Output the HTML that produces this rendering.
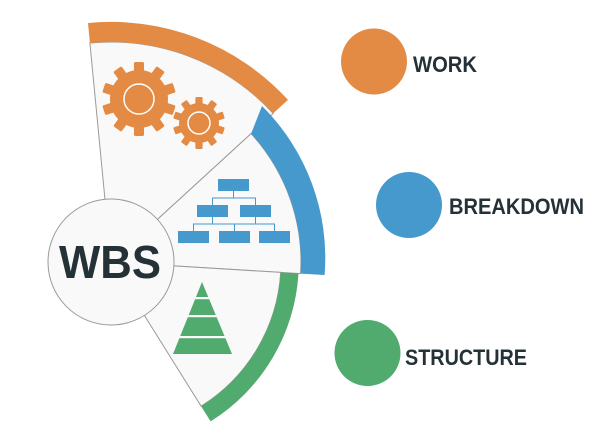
<!DOCTYPE html>
<html><head><style>html,body{margin:0;padding:0;background:#fff}svg{display:block}</style></head>
<body>
<svg width="612" height="427" viewBox="0 0 612 427" xmlns="http://www.w3.org/2000/svg">
<defs>
<g id="tooth"><rect x="-5" y="-37" width="10" height="12" rx="1.5"/></g>
<g id="toothS"><rect x="-3.6" y="-26" width="7.2" height="9" rx="1"/></g>
</defs>
<!-- sectors: center (111,262) -->
<g stroke="#9a9a9a" stroke-width="1">
<!-- orange wedge: -5.5 to 47.5 deg, r 220 -->
<path d="M111,262 L89.9,43 A220,220 0 0 1 273.2,113.4 Z" fill="#f9f9f9"/>
<!-- blue wedge: 47.5 to 93.5, r 190 -->
<path d="M111,262 L251.1,133.6 A190,190 0 0 1 300.6,273.6 Z" fill="#f9f9f9"/>
<!-- green wedge: 93.5 to 148, r 170 -->
<path d="M111,262 L280.7,272.4 A170,170 0 0 1 201.1,406.2 Z" fill="#f9f9f9"/>
</g>
<!-- bands -->
<path d="M88,23 A240,240 0 0 1 288,99.9 L273.2,113.4 A220,220 0 0 0 89.9,43 Z" fill="#E38B45"/>
<path d="M262,106 A214,214 0 0 1 324.6,275 L300.6,273.6 A190,190 0 0 0 251.1,133.6 Z" fill="#4599CC"/>
<path d="M298.5,273.5 A188,188 0 0 1 210.6,421.4 L201.1,406.2 A170,170 0 0 0 280.7,272.4 Z" fill="#52AB6E"/>
<!-- center circle -->
<circle cx="111" cy="262" r="63" fill="#f9f9f9" stroke="#9a9a9a" stroke-width="1"/>
<text x="110" y="278" text-anchor="middle" font-family="Liberation Sans, sans-serif" font-weight="bold" font-size="46" fill="#243238" textLength="102" lengthAdjust="spacingAndGlyphs">WBS</text>
<!-- big gear -->
<g fill="#E38B45" transform="translate(139,99)">
<circle r="29"/>
<use href="#tooth"/><use href="#tooth" transform="rotate(36)"/><use href="#tooth" transform="rotate(72)"/><use href="#tooth" transform="rotate(108)"/><use href="#tooth" transform="rotate(144)"/><use href="#tooth" transform="rotate(180)"/><use href="#tooth" transform="rotate(216)"/><use href="#tooth" transform="rotate(252)"/><use href="#tooth" transform="rotate(288)"/><use href="#tooth" transform="rotate(324)"/>
<circle r="15" fill="none" stroke="#fff" stroke-width="1.5"/>
</g>
<g fill="#E38B45" transform="translate(199,123)">
<circle r="20"/>
<use href="#toothS"/><use href="#toothS" transform="rotate(36)"/><use href="#toothS" transform="rotate(72)"/><use href="#toothS" transform="rotate(108)"/><use href="#toothS" transform="rotate(144)"/><use href="#toothS" transform="rotate(180)"/><use href="#toothS" transform="rotate(216)"/><use href="#toothS" transform="rotate(252)"/><use href="#toothS" transform="rotate(288)"/><use href="#toothS" transform="rotate(324)"/>
<circle r="11" fill="none" stroke="#fff" stroke-width="1.5"/>
</g>
<!-- org chart -->
<g fill="none" stroke="#4599CC" stroke-width="1">
<path d="M233.5,191 V198 M212.5,205 V198 H255.5 V205 M212.5,217 V224 M255.5,217 V224 M193.5,231 V224 H274.5 V231 M234.5,224 V231"/>
</g>
<g fill="#4599CC">
<rect x="218" y="179" width="31" height="12"/>
<rect x="197" y="205" width="31" height="12"/>
<rect x="240" y="205" width="31" height="12"/>
<rect x="178" y="231" width="31" height="12"/>
<rect x="219" y="231" width="31" height="12"/>
<rect x="259" y="231" width="31" height="12"/>
</g>
<!-- pyramid -->
<path d="M202,282 L232,354 L173,354 Z" fill="#52AB6E"/>
<g fill="#f9f9f9"><rect x="170" y="297" width="64" height="2.2"/><rect x="170" y="315" width="64" height="2.2"/><rect x="170" y="336" width="64" height="2.2"/></g>
<!-- legend -->
<circle cx="374" cy="61.5" r="33" fill="#E38B45"/>
<circle cx="409" cy="205" r="33" fill="#4599CC"/>
<circle cx="367.5" cy="353" r="33" fill="#52AB6E"/>
<g font-family="Liberation Sans, sans-serif" font-weight="bold" font-size="22" fill="#243238">
<text x="413" y="72" textLength="64" lengthAdjust="spacingAndGlyphs">WORK</text>
<text x="449" y="214" textLength="135" lengthAdjust="spacingAndGlyphs">BREAKDOWN</text>
<text x="405" y="365" textLength="122" lengthAdjust="spacingAndGlyphs">STRUCTURE</text>
</g>
</svg>
</body></html>
